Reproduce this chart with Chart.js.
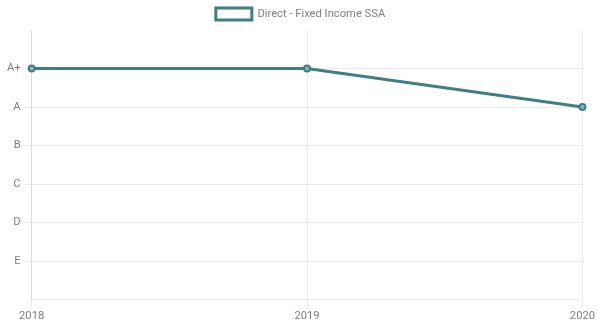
<!DOCTYPE html>
<html lang="en">
<head>
    <meta charset="UTF-8">
    <title>Direct - Fixed Income SSA</title>
    <script src="https://cdn.jsdelivr.net/npm/chart.js"></script>
    <style>
        body {
            margin: 0;
            background: #fff;
        }
        #wrap {
            width: 597px;
            height: 322px;
        }
    </style>
</head>
<body>
    <div id="wrap"><canvas id="ratingChart"></canvas></div>

    <script>
        // years and rating scores (6 = A+, 5 = A, ... 1 = E)
        const years = ['2018', '2019', '2020'];
        const ratingScores = [6, 6, 5];
        const ratingLabels = { 6: 'A+', 5: 'A', 4: 'B', 3: 'C', 2: 'D', 1: 'E' };
        const seriesName = 'Direct - Fixed Income SSA';

        const teal = '#3d7f84';

        Chart.defaults.font.family = "Roboto, 'Helvetica Neue', Arial, sans-serif";
        Chart.defaults.font.size = 11.2;
        Chart.defaults.color = '#808080';

        new Chart(document.getElementById('ratingChart').getContext('2d'), {
            type: 'line',
            data: {
                labels: years,
                datasets: [{
                    label: seriesName,
                    data: ratingScores,
                    borderColor: teal,
                    backgroundColor: 'rgba(0,0,0,0)',
                    borderWidth: 3,
                    pointRadius: 3,
                    pointBorderWidth: 2,
                    pointBackgroundColor: '#8fb3b6',
                    pointBorderColor: teal,
                    tension: 0,
                    fill: false
                }]
            },
            options: {
                responsive: true,
                maintainAspectRatio: false,
                animation: false,
                layout: { padding: { left: 4, right: 0, top: 0, bottom: -3 } },
                plugins: {
                    legend: {
                        labels: { boxWidth: 36, boxHeight: 12, padding: 8 }
                    },
                    tooltip: { enabled: false }
                },
                scales: {
                    x: {
                        grid: { color: 'rgba(0,0,0,0.08)', drawTicks: true, tickLength: 8 },
                        border: { color: 'rgba(0,0,0,0.08)' },
                        ticks: { maxRotation: 0, padding: 2 }
                    },
                    y: {
                        min: 0,
                        max: 7,
                        grid: { color: 'rgba(0,0,0,0.08)', tickLength: 8 },
                        border: { color: 'rgba(0,0,0,0.08)' },
                        ticks: {
                            stepSize: 1,
                            padding: 3,
                            callback: v => ratingLabels[v] !== undefined ? ratingLabels[v] : null
                        }
                    }
                }
            }
        });
    </script>
</body>
</html>
